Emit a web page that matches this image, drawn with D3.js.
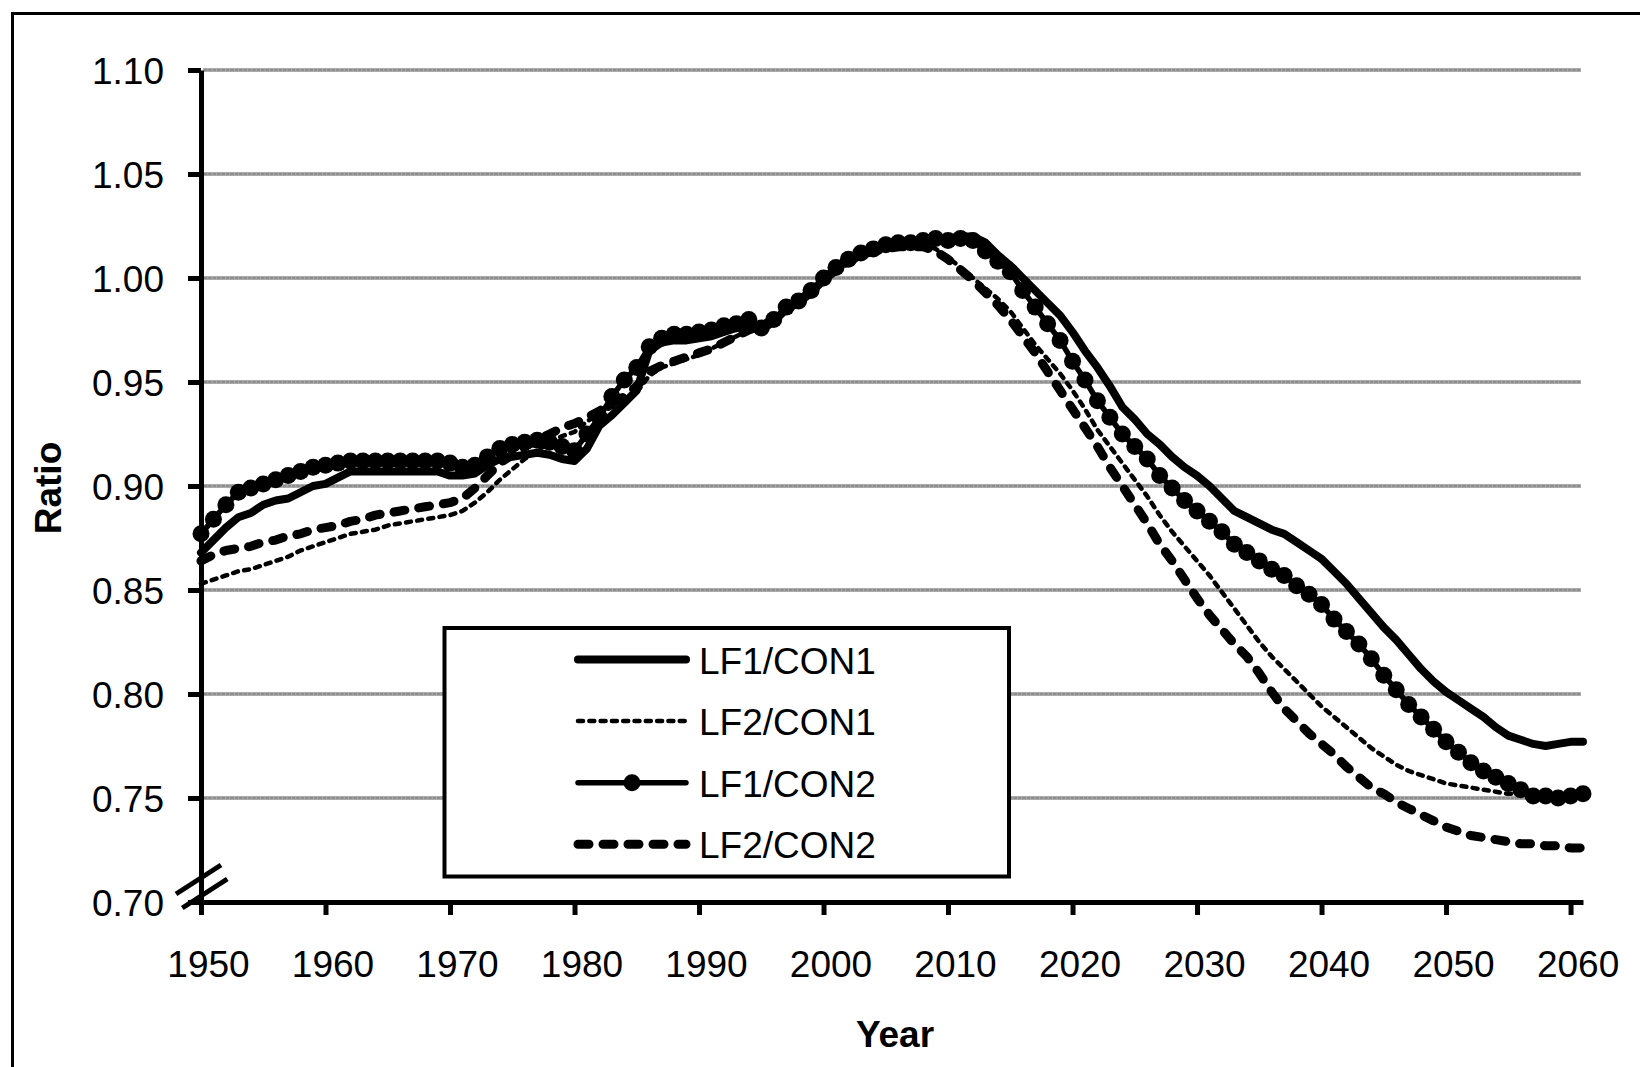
<!DOCTYPE html>
<html>
<head>
<meta charset="utf-8">
<script src="https://d3js.org/d3.v7.min.js"></script>
<style>
  body { margin: 0; background: #fff; }
  svg text { font-family: "Liberation Sans", Arial, sans-serif; fill: #000; }
</style>
</head>
<body>
<div class="main"></div>
<script>
// categories: one point per year
const years = [
  1950, 1951, 1952, 1953, 1954, 1955, 1956, 1957, 1958, 1959,
  1960, 1961, 1962, 1963, 1964, 1965, 1966, 1967, 1968, 1969,
  1970, 1971, 1972, 1973, 1974, 1975, 1976, 1977, 1978, 1979,
  1980, 1981, 1982, 1983, 1984, 1985, 1986, 1987, 1988, 1989,
  1990, 1991, 1992, 1993, 1994, 1995, 1996, 1997, 1998, 1999,
  2000, 2001, 2002, 2003, 2004, 2005, 2006, 2007, 2008, 2009,
  2010, 2011, 2012, 2013, 2014, 2015, 2016, 2017, 2018, 2019,
  2020, 2021, 2022, 2023, 2024, 2025, 2026, 2027, 2028, 2029,
  2030, 2031, 2032, 2033, 2034, 2035, 2036, 2037, 2038, 2039,
  2040, 2041, 2042, 2043, 2044, 2045, 2046, 2047, 2048, 2049,
  2050, 2051, 2052, 2053, 2054, 2055, 2056, 2057, 2058, 2059,
  2060, 2061
];

const lf1con1 = [
  0.868, 0.874, 0.880, 0.885, 0.887, 0.891, 0.893, 0.894, 0.897, 0.900,
  0.901, 0.904, 0.907, 0.907, 0.907, 0.907, 0.907, 0.907, 0.907, 0.907,
  0.905, 0.905, 0.906, 0.910, 0.913, 0.914, 0.915, 0.916, 0.915, 0.913,
  0.912, 0.918, 0.929, 0.934, 0.940, 0.946, 0.965, 0.969, 0.970, 0.970,
  0.971, 0.972, 0.974, 0.976, 0.978, 0.975, 0.979, 0.985, 0.988, 0.993,
  0.999, 1.005, 1.009, 1.012, 1.014, 1.015, 1.016, 1.016, 1.017, 1.018,
  1.019, 1.020, 1.020, 1.017, 1.011, 1.006, 1.000, 0.994, 0.988, 0.982,
  0.974, 0.965, 0.957, 0.948, 0.938, 0.932, 0.925, 0.920, 0.914, 0.909,
  0.905, 0.900, 0.894, 0.888, 0.885, 0.882, 0.879, 0.877, 0.873, 0.869,
  0.865, 0.859, 0.853, 0.846, 0.839, 0.832, 0.826, 0.819, 0.812, 0.806,
  0.801, 0.797, 0.793, 0.789, 0.784, 0.780, 0.778, 0.776, 0.775, 0.776,
  0.777, 0.777
];

const lf2con1 = [
  0.853, 0.855, 0.857, 0.859, 0.860, 0.862, 0.864, 0.866, 0.869, 0.871,
  0.873, 0.875, 0.877, 0.878, 0.879, 0.881, 0.882, 0.883, 0.884, 0.885,
  0.886, 0.888, 0.892, 0.897, 0.903, 0.908, 0.913, 0.917, 0.921, 0.924,
  0.926, 0.931, 0.935, 0.938, 0.941, 0.945, 0.953, 0.957, 0.959, 0.961,
  0.963, 0.966, 0.969, 0.972, 0.975, 0.977, 0.980, 0.985, 0.989, 0.994,
  0.999, 1.004, 1.008, 1.011, 1.013, 1.014, 1.015, 1.015, 1.016, 1.014,
  1.010, 1.005, 1.000, 0.995, 0.990, 0.984, 0.976, 0.968, 0.961, 0.954,
  0.946, 0.937, 0.927, 0.919, 0.911, 0.903, 0.895, 0.886, 0.878, 0.871,
  0.864, 0.857, 0.849, 0.841, 0.833, 0.825, 0.818, 0.812, 0.806, 0.800,
  0.794, 0.789, 0.784, 0.779, 0.774, 0.770, 0.766, 0.763, 0.761, 0.759,
  0.757, 0.756, 0.755, 0.754, 0.753, 0.752, 0.752, 0.751, 0.751, 0.751,
  0.751, 0.751
];

const lf1con2 = [
  0.877, 0.884, 0.891, 0.897, 0.899, 0.901, 0.903, 0.905, 0.907, 0.909,
  0.910, 0.911, 0.912, 0.912, 0.912, 0.912, 0.912, 0.912, 0.912, 0.912,
  0.911, 0.909, 0.910, 0.914, 0.918, 0.920, 0.921, 0.922, 0.921, 0.919,
  0.917, 0.925, 0.933, 0.943, 0.951, 0.957, 0.967, 0.971, 0.973, 0.973,
  0.974, 0.975, 0.977, 0.978, 0.980, 0.976, 0.980, 0.986, 0.989, 0.994,
  1.000, 1.005, 1.009, 1.012, 1.014, 1.016, 1.017, 1.017, 1.018, 1.019,
  1.018, 1.019, 1.018, 1.013, 1.008, 1.003, 0.994, 0.986, 0.978, 0.970,
  0.960, 0.951, 0.941, 0.933, 0.925, 0.919, 0.913, 0.905, 0.899, 0.893,
  0.888, 0.883, 0.878, 0.872, 0.868, 0.864, 0.860, 0.857, 0.852, 0.848,
  0.843, 0.836, 0.830, 0.824, 0.817, 0.809, 0.802, 0.795, 0.789, 0.783,
  0.777, 0.772, 0.767, 0.763, 0.760, 0.757, 0.754, 0.751, 0.751, 0.750,
  0.751, 0.752
];

const lf2con2 = [
  0.864, 0.867, 0.869, 0.870, 0.871, 0.873, 0.874, 0.876, 0.877, 0.879,
  0.880, 0.881, 0.883, 0.884, 0.886, 0.887, 0.888, 0.889, 0.890, 0.891,
  0.892, 0.894, 0.899, 0.905, 0.911, 0.915, 0.919, 0.922, 0.925, 0.928,
  0.930, 0.933, 0.936, 0.940, 0.943, 0.948, 0.955, 0.958, 0.960, 0.962,
  0.964, 0.966, 0.969, 0.972, 0.975, 0.977, 0.980, 0.985, 0.989, 0.994,
  0.999, 1.004, 1.008, 1.011, 1.013, 1.014, 1.015, 1.015, 1.015, 1.013,
  1.009, 1.004, 0.999, 0.993, 0.987, 0.980, 0.972, 0.964, 0.955, 0.946,
  0.937, 0.928, 0.919, 0.909, 0.900, 0.891, 0.882, 0.872, 0.864, 0.855,
  0.846, 0.838, 0.831, 0.824, 0.818, 0.810, 0.801, 0.793, 0.787, 0.781,
  0.776, 0.771, 0.765, 0.760, 0.755, 0.752, 0.748, 0.745, 0.742, 0.739,
  0.736, 0.734, 0.732, 0.731, 0.730, 0.729, 0.728, 0.728, 0.727, 0.727,
  0.726, 0.726
];

const seriesNames = ["LF1/CON1", "LF2/CON1", "LF1/CON2", "LF2/CON2"];
const xTicks = [1950, 1960, 1970, 1980, 1990, 2000, 2010, 2020, 2030, 2040, 2050, 2060];
const yTicks = [0.70, 0.75, 0.80, 0.85, 0.90, 0.95, 1.00, 1.05, 1.10];

let width = 1640,
    height = 1067;

let svg = d3.select("div.main").append("svg")
  .attr("width", width)
  .attr("height", height);

// chart area frame (runs off the right and bottom of the picture)
svg.append("rect")
  .attr("x", 12.5)
  .attr("y", 13.5)
  .attr("width", 1700)
  .attr("height", 1200)
  .attr("fill", "none")
  .attr("stroke", "#000")
  .attr("stroke-width", 3);

let x = d3.scaleLinear()
  .domain([1950, 2061])
  .range([201, 1583]);

let y = d3.scaleLinear()
  .domain([0.70, 1.10])
  .range([902, 70]);

// grey gridlines: a solid grey rule with a light bead texture on top
let grid = svg.append("g").attr("class", "grid");
grid.selectAll("line.rule")
  .data(yTicks.slice(1))
  .join("line")
    .attr("class", "rule")
    .attr("x1", x(1950) + 2)
    .attr("x2", x(2061) - 2)
    .attr("y1", d => y(d))
    .attr("y2", d => y(d))
    .attr("stroke", "#8e8e8e")
    .attr("stroke-width", 3.6);
grid.selectAll("line.bead")
  .data(yTicks.slice(1))
  .join("line")
    .attr("class", "bead")
    .attr("x1", x(1950) + 2)
    .attr("x2", x(2061) - 2)
    .attr("y1", d => y(d))
    .attr("y2", d => y(d))
    .attr("stroke", "#b4b4b4")
    .attr("stroke-width", 3.6)
    .attr("stroke-dasharray", "0.8 3.6");

// y axis
let yAxis = d3.axisLeft(y)
  .tickValues(yTicks)
  .tickFormat(d3.format(".2f"))
  .tickSize(13)
  .tickSizeOuter(0)
  .tickPadding(24);

let yg = svg.append("g")
  .attr("transform", "translate(" + x(1950) + ",0)")
  .call(yAxis);

// x axis
let xAxis = d3.axisBottom(x)
  .tickValues(xTicks)
  .tickFormat(d3.format("d"))
  .tickSize(13)
  .tickSizeOuter(0);

let xg = svg.append("g")
  .attr("transform", "translate(0," + y(0.70) + ")")
  .call(xAxis);

[yg, xg].forEach(function(g) {
  g.select(".domain")
    .attr("stroke", "#000")
    .attr("stroke-width", 5);
  g.selectAll(".tick line")
    .attr("stroke", "#000")
    .attr("stroke-width", 5);
  g.selectAll(".tick text")
    .attr("font-size", "37px")
    .attr("font-family", "'Liberation Sans', Arial, sans-serif");
});
yg.selectAll(".tick text").attr("dy", "0.36em");
xg.selectAll(".tick text").attr("y", 75).attr("dy", 0).attr("dx", 7);

// axis break marks on the y axis
[0, 14].forEach(function(off) {
  svg.append("line")
    .attr("x1", 176 + off * 0.45)
    .attr("y1", 894 + off)
    .attr("x2", 221 + off * 0.45)
    .attr("y2", 865 + off)
    .attr("stroke", "#000")
    .attr("stroke-width", 5);
});

// series
let line = d3.line()
  .x((d, i) => x(years[i]))
  .y(d => y(d));

let styles = [
  { data: lf1con1, width: 8, dash: null },
  { data: lf2con1, width: 4.5, dash: "5 6.3" },
  { data: lf1con2, width: 5.5, dash: null, marker: true },
  { data: lf2con2, width: 9, dash: "11 14" }
];

styles.forEach(function(s) {
  svg.append("path")
    .datum(s.data)
    .attr("d", line)
    .attr("fill", "none")
    .attr("stroke", "#000")
    .attr("stroke-width", s.width)
    .attr("stroke-linejoin", "round")
    .attr("stroke-linecap", "round")
    .attr("stroke-dasharray", s.dash);

  if (s.marker) {
    svg.append("g")
      .selectAll("circle")
      .data(s.data)
      .join("circle")
        .attr("cx", (d, i) => x(years[i]))
        .attr("cy", d => y(d))
        .attr("r", 8.5)
        .attr("fill", "#000");
  }
});

// legend
let legend = svg.append("g").attr("class", "legend");

legend.append("rect")
  .attr("x", 444.5)
  .attr("y", 628)
  .attr("width", 564.5)
  .attr("height", 248.5)
  .attr("fill", "#fff")
  .attr("stroke", "#000")
  .attr("stroke-width", 4);

let rowY = [659.5, 721, 782.7, 844.3];

seriesNames.forEach(function(name, i) {
  let s = styles[i];
  legend.append("line")
    .attr("x1", 578)
    .attr("x2", 686)
    .attr("y1", rowY[i])
    .attr("y2", rowY[i])
    .attr("stroke", "#000")
    .attr("stroke-width", s.width)
    .attr("stroke-linecap", "round")
    .attr("stroke-dasharray", s.dash);
  if (s.marker) {
    legend.append("circle")
      .attr("cx", 632)
      .attr("cy", rowY[i])
      .attr("r", 8.5)
      .attr("fill", "#000");
  }
  legend.append("text")
    .text(name)
    .attr("x", 699)
    .attr("y", rowY[i] + 14)
    .attr("font-size", "37px");
});

// axis titles
svg.append("text")
  .text("Ratio")
  .attr("transform", "translate(61,488)rotate(-90)")
  .attr("text-anchor", "middle")
  .attr("font-size", "37px")
  .attr("font-weight", "bold");

svg.append("text")
  .text("Year")
  .attr("x", 895)
  .attr("y", 1047)
  .attr("text-anchor", "middle")
  .attr("font-size", "37px")
  .attr("font-weight", "bold");
</script>
</body>
</html>
